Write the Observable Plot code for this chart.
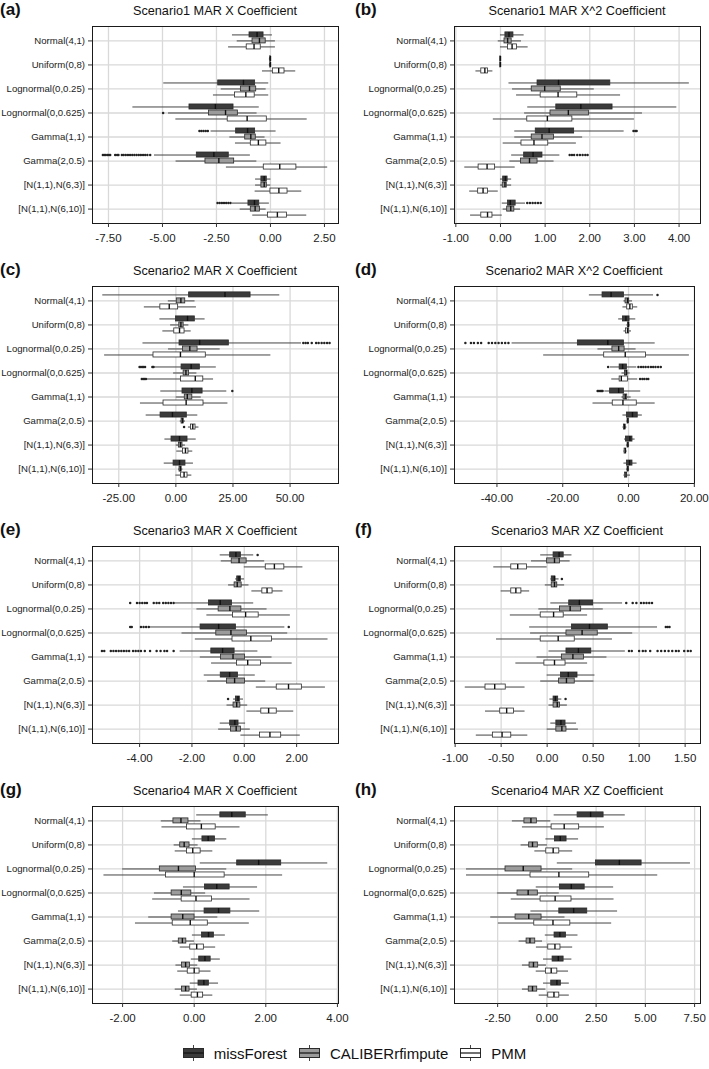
<!DOCTYPE html>
<html><head><meta charset="utf-8">
<script src="https://cdn.jsdelivr.net/npm/d3@7"></script>
<script src="https://cdn.jsdelivr.net/npm/@observablehq/plot@0.6"></script>
<style>
body{margin:0;background:#fff;font-family:"Liberation Sans",Arial,sans-serif;}
#wrap{position:relative;width:709px;height:1069px;overflow:hidden;}
.cell{position:absolute;height:260px;}
.tag{position:absolute;left:0;top:1px;font-weight:bold;font-size:17px;line-height:17px;color:#111;}
.title{position:absolute;top:3.6px;font-size:12.7px;line-height:14px;text-align:center;color:#111;white-space:nowrap;}
.cell svg{position:absolute;top:20px;left:0;}
#legend{position:absolute;top:1044px;left:0;width:709px;height:18px;display:flex;justify-content:center;align-items:center;font-size:15px;color:#111;}
#legend .item{display:flex;align-items:center;margin:0 6px;}
#legend svg{margin-right:10px;}
</style></head>
<body><div id="wrap"></div>
<script>
const categories = ["Normal(4,1)","Uniform(0,8)","Lognormal(0,0.25)","Lognormal(0,0.625)","Gamma(1,1)","Gamma(2,0.5)","[N(1,1),N(6,3)]","[N(1,1),N(6,10)]"];
const methods = ["missForest","CALIBERrfimpute","PMM"];
const fills = ["#3b3b3b","#9b9b9b","#ffffff"];
const tags = ["(a)","(b)","(c)","(d)","(e)","(f)","(g)","(h)"];
const titles = ["Scenario1 MAR X Coefficient","Scenario1 MAR X^2 Coefficient","Scenario2 MAR X Coefficient","Scenario2 MAR X^2 Coefficient","Scenario3 MAR X Coefficient","Scenario3 MAR XZ Coefficient","Scenario4 MAR X Coefficient","Scenario4 MAR XZ Coefficient"];
const ticksA = [-7.5,-5,-2.5,0,2.5], ticksB = [-1,0,1,2,3,4], ticksC = [-25,0,25,50], ticksD = [-40,-20,0,20];
const ticksE = [-4,-2,0,2], ticksF = [-1,-0.5,0,0.5,1,1.5], ticksG = [-2,0,2,4], ticksH = [-2.5,0,2.5,5,7.5];
const domA = [-8.24,3.15], domB = [-1.03,4.48], domC = [-36.5,71.2], domD = [-52.9,20.05];
const domE = [-5.8,3.6], domF = [-1.007,1.667], domG = [-2.84,4.03], domH = [-4.69,7.8];

// [low whisker, q1, median, q3, high whisker]; per category: missForest, CALIBERrfimpute, PMM
const statsA = [
 [-1.76,-0.97,-0.62,-0.32,0.09],[-1.54,-0.83,-0.51,-0.22,0.23],[-1.94,-1.10,-0.76,-0.45,0.23],
 [-0.05,-0.02,0,0.02,0.05],[-0.05,-0.02,0,0.02,0.05],[-0.37,0.11,0.38,0.65,1.17],
 [-4.94,-2.42,-1.25,-0.71,-0.08],[-2.28,-1.37,-0.97,-0.66,-0.20],[-2.64,-1.64,-1.14,-0.73,-0.08],
 [-6.37,-3.75,-2.55,-1.71,-0.52],[-4.72,-2.85,-2.08,-1.51,-0.62],[-4.38,-1.98,-1.08,-0.17,1.70],
 [-2.75,-1.59,-1.06,-0.71,0.26],[-1.88,-1.17,-0.91,-0.68,-0.25],[-1.62,-0.91,-0.56,-0.19,0.49],
 [-5.37,-3.41,-2.62,-1.93,-0.93],[-4.37,-3.01,-2.39,-1.68,-0.63],[-2.04,-0.31,0.43,1.20,2.65],
 [-0.69,-0.42,-0.29,-0.17,0.02],[-0.69,-0.42,-0.29,-0.17,0.02],[-0.71,0.0,0.39,0.79,1.45],
 [-1.76,-1.02,-0.74,-0.52,-0.05],[-1.40,-0.91,-0.71,-0.49,-0.20],[-0.82,-0.12,0.32,0.76,1.68]];
const statsB = [
 [0.0,0.11,0.19,0.29,0.53],[-0.05,0.09,0.16,0.25,0.47],[0.0,0.17,0.26,0.37,0.62],
 [-0.01,-0.005,0,0.005,0.01],[-0.01,-0.005,0,0.005,0.01],[-0.55,-0.43,-0.35,-0.28,-0.17],
 [0.19,0.83,1.30,2.46,4.23],[0.27,0.70,0.99,1.35,2.10],[0.36,0.90,1.29,1.72,2.69],
 [0.61,1.25,1.80,2.51,3.95],[0.54,1.12,1.52,1.98,3.18],[-0.16,0.60,1.05,1.61,3.00],
 [0.32,0.79,1.09,1.65,2.77],[0.32,0.70,0.93,1.20,1.84],[0.06,0.47,0.75,1.07,1.70],
 [0.25,0.53,0.73,0.94,1.33],[0.21,0.46,0.65,0.83,1.20],[-0.80,-0.49,-0.30,-0.12,0.33],
 [0.0,0.06,0.11,0.16,0.25],[0.0,0.05,0.10,0.14,0.25],[-0.69,-0.50,-0.39,-0.28,-0.05],
 [0.04,0.17,0.22,0.34,0.56],[0.06,0.15,0.23,0.31,0.45],[-0.67,-0.43,-0.29,-0.18,0.04]];
const statsC = [
 [-32,5.8,21.5,32.7,45.5],[-3.3,0.4,2.2,4.1,8.4],[-13.8,-6.8,-2.9,1.0,9.0],
 [-7.0,0.1,5.1,8.3,12.8],[-2.3,1.5,2.2,3.4,5.7],[-5.7,-0.7,1.6,3.8,6.7],
 [-14.4,1.6,10.4,23.2,55.0],[-3.2,3.1,6.1,9.5,19.4],[-31.2,-9.8,2.0,13.1,41.6],
 [-9.3,2.5,6.7,10.5,17.7],[-1.0,3.4,4.4,5.8,9.2],[-12.5,2.2,8.5,12.0,16.5],
 [-6.6,2.9,7.0,11.7,22.3],[0.1,3.9,5.0,7.2,11.1],[-15.5,-5.4,4.5,12.1,22.8],
 [-13.0,-6.7,-1.5,4.8,9.6],[1.9,2.5,2.9,3.4,4.2],[5.5,6.6,7.4,8.6,10.1],
 [-4.8,-1.9,1.6,5.1,8.9],[0.1,1.3,2.0,2.9,4.2],[0.4,3.1,4.2,5.5,7.4],
 [-5.1,-1.0,1.6,4.2,7.7],[1.2,1.6,2.0,2.5,3.1],[0.0,2.3,3.6,5.1,7.0]];
const statsD = [
 [-11.9,-7.9,-5.3,-1.4,7.6],[-1.4,-0.9,-0.3,0.2,1.2],[-1.7,-0.4,0.4,1.3,2.8],
 [-3.0,-1.7,-0.8,0.3,2.2],[-0.5,-0.2,0,0.2,0.5],[-1.4,-0.8,-0.3,0.2,0.9],
 [-35.4,-15.4,-6.3,-1.4,8.1],[-9.3,-4.9,-3.0,-1.2,2.3],[-25.8,-7.4,-1.0,5.3,18.5],
 [-5.5,-2.7,-1.8,-0.5,2.5],[-2.0,-1.1,-0.7,-0.3,0.5],[-5.1,-2.7,-2.2,-0.2,2.8],
 [-7.2,-5.6,-3.0,-1.4,3.7],[-2.0,-1.5,-1.0,-0.4,0.8],[-10.8,-4.8,-1.7,2.5,8.1],
 [-1.7,-0.5,1.2,2.8,4.2],[-0.5,-0.3,-0.2,0.0,0.2],[-1.7,-1.4,-1.2,-0.9,-0.5],
 [-1.2,-0.8,0.4,1.2,2.0],[-0.6,-0.3,-0.2,0.0,0.3],[-1.4,-1.2,-1.0,-0.7,-0.4],
 [-1.4,-0.5,0.3,1.2,2.6],[-0.6,-0.3,-0.2,0.0,0.3],[-1.4,-1.1,-0.8,-0.4,0.6]];
const statsE = [
 [-0.92,-0.54,-0.32,-0.13,0.36],[-0.88,-0.48,-0.20,0.09,0.78],[0.0,0.82,1.15,1.53,2.24],
 [-0.33,-0.27,-0.20,-0.13,0.01],[-0.60,-0.37,-0.27,-0.10,0.18],[0.29,0.69,0.87,1.08,1.48],
 [-2.64,-1.35,-0.92,-0.47,0.36],[-1.81,-0.98,-0.55,-0.11,0.87],[-1.43,-0.43,0.05,0.55,1.76],
 [-3.63,-1.67,-0.98,-0.32,1.55],[-2.38,-1.07,-0.51,0.10,1.66],[-1.87,-0.45,0.25,1.06,3.20],
 [-2.45,-1.26,-0.83,-0.37,0.52],[-1.68,-0.89,-0.43,0.03,1.06],[-1.25,-0.28,0.13,0.64,1.83],
 [-1.53,-0.90,-0.56,-0.24,0.42],[-1.40,-0.66,-0.37,0.03,0.82],[0.46,1.24,1.69,2.20,3.10],
 [-0.41,-0.32,-0.24,-0.17,-0.03],[-0.66,-0.41,-0.29,-0.15,0.13],[0.10,0.65,0.93,1.24,1.89],
 [-0.92,-0.54,-0.36,-0.22,0.05],[-0.98,-0.51,-0.31,-0.13,0.23],[-0.13,0.60,0.98,1.41,2.14]];
const statsF = [
 [-0.07,0.07,0.13,0.18,0.27],[-0.17,0.0,0.08,0.14,0.25],[-0.58,-0.39,-0.32,-0.22,0.0],
 [0.04,0.05,0.08,0.09,0.13],[-0.02,0.05,0.08,0.11,0.19],[-0.50,-0.39,-0.34,-0.28,-0.19],
 [0.04,0.24,0.35,0.50,0.82],[-0.09,0.14,0.25,0.37,0.61],[-0.40,-0.07,0.07,0.18,0.44],
 [-0.19,0.27,0.46,0.66,1.20],[-0.18,0.21,0.38,0.55,0.93],[-0.55,-0.07,0.12,0.30,0.71],
 [0.02,0.21,0.34,0.48,0.85],[-0.11,0.16,0.28,0.40,0.65],[-0.34,-0.03,0.08,0.20,0.44],
 [0.0,0.15,0.23,0.33,0.52],[-0.07,0.13,0.21,0.30,0.51],[-0.89,-0.67,-0.57,-0.45,-0.24],
 [0.03,0.07,0.09,0.12,0.16],[0.02,0.07,0.11,0.14,0.22],[-0.67,-0.51,-0.44,-0.36,-0.24],
 [0.04,0.10,0.15,0.20,0.32],[0.0,0.10,0.16,0.21,0.34],[-0.77,-0.59,-0.49,-0.39,-0.21]];
const statsG = [
 [0.07,0.73,1.05,1.44,2.07],[-0.92,-0.58,-0.37,-0.16,0.19],[-0.90,-0.20,0.20,0.60,1.28],
 [-0.05,0.23,0.39,0.58,0.91],[-0.56,-0.39,-0.28,-0.13,0.11],[-0.53,-0.20,-0.04,0.18,0.52],
 [0.17,1.20,1.80,2.43,3.73],[-2.0,-0.96,-0.44,0.05,0.91],[-2.52,-0.79,0.0,0.85,2.47],
 [-0.30,0.30,0.63,0.99,1.77],[-1.11,-0.63,-0.36,-0.08,0.32],[-1.16,-0.35,0.05,0.50,1.56],
 [-0.44,0.29,0.68,1.01,1.83],[-1.27,-0.63,-0.32,0.01,0.66],[-1.64,-0.60,-0.11,0.38,1.54],
 [-0.05,0.22,0.40,0.55,0.87],[-0.60,-0.43,-0.33,-0.22,0.01],[-0.39,-0.11,0.07,0.27,0.60],
 [-0.08,0.14,0.30,0.46,0.73],[-0.51,-0.34,-0.24,-0.12,0.10],[-0.46,-0.18,0.0,0.15,0.47],
 [-0.11,0.12,0.27,0.41,0.68],[-0.53,-0.34,-0.24,-0.13,0.09],[-0.39,-0.07,0.09,0.25,0.52]];
const statsH = [
 [0.37,1.56,2.22,2.88,3.98],[-1.75,-1.14,-0.81,-0.51,0.20],[-1.24,0.24,0.88,1.64,2.92],
 [-0.05,0.41,0.68,1.00,1.61],[-1.31,-0.90,-0.73,-0.46,0.03],[-0.61,-0.03,0.32,0.63,1.31],
 [0.53,2.49,3.68,4.81,7.29],[-4.08,-2.10,-1.20,-0.27,1.31],[-4.08,-0.83,0.61,2.15,5.63],
 [-0.54,0.66,1.24,1.92,3.39],[-2.51,-1.49,-0.95,-0.46,0.63],[-1.81,-0.32,0.42,1.25,3.41],
 [-0.81,0.63,1.36,2.05,3.59],[-2.85,-1.59,-0.92,-0.27,0.92],[-2.46,-0.64,0.31,1.19,3.29],
 [-0.08,0.39,0.66,0.97,1.58],[-1.41,-1.03,-0.86,-0.59,-0.22],[-0.53,0.07,0.41,0.69,1.31],
 [-0.17,0.29,0.58,0.85,1.27],[-1.24,-0.88,-0.68,-0.44,-0.02],[-0.54,-0.05,0.22,0.53,1.10],
 [-0.17,0.22,0.51,0.71,1.14],[-1.24,-0.92,-0.73,-0.49,-0.05],[-0.39,0.07,0.36,0.63,1.14]];

// outliers: [category index, method index, values]
const outA = [[3,1,[-4.97]],[4,0,[-3.29,-3.2,-3.1,-3.0,-2.9]],
 [5,0,[-7.76,-7.7,-7.63,-7.55,-7.48,-7.42,-7.19,-7.1,-7.04,-6.88,-6.8,-6.7,-6.6,-6.5,-6.4,-6.3,-6.2,-6.1,-6.0,-5.9,-5.8,-5.7,-5.57]],
 [7,0,[-2.45,-2.35,-2.25,-2.15,-2.05,-1.95,-1.85]]];
const outB = [[4,0,[2.98,3.02,3.05]],[5,0,[1.55,1.6,1.65,1.72,1.78,1.84,1.9,1.95]],[7,0,[0.6,0.66,0.72,0.78,0.84,0.9]]];
const outC = [[2,0,[55.8,56.8,57.8,59.5,61.4,62.5,63.8,65.0,66.2,67.3]],[3,0,[-15.9,-15.3,-14.7,-14.1,-13.5,-10.3,-9.8]],
 [3,2,[-14.9,-14.3,-13.7,-13.1]],[4,0,[24.7]],[5,2,[3.6]]];
const outD = [[0,0,[8.8]],[2,0,[-49.6,-47.9,-47.0,-45.8,-44.8,-42.5,-41.5,-40.5,-39.5,-38.5,-37.5,-36.5]],
 [3,0,[-6.2,3.0,3.8,4.5,5.2,6.0,6.8,7.5,8.2,9.0,9.8]],[3,2,[3.5,4.2,4.8,5.5,6.0]],[4,0,[-9.4,-9.0,-8.6,-8.2,-7.9]]];
const outE = [[0,0,[0.51]],[2,0,[-4.36,-4.1,-4.0,-3.9,-3.8,-3.72,-3.46,-3.35,-3.25,-3.1,-3.0,-2.9,-2.8,-2.7]],
 [3,0,[-4.36,-4.3,-3.95,-3.85,-3.75,-3.65,1.70]],
 [4,0,[-5.44,-5.35,-5.1,-5.0,-4.9,-4.8,-4.7,-4.6,-4.5,-4.4,-4.25,-4.15,-4.05,-3.95,-3.8,-3.6,-3.35,-3.2,-3.05,-2.95,-2.7]],
 [6,0,[-0.62]]];
const outF = [[1,0,[0.16]],[2,0,[0.86,0.93,0.97,1.02,1.05,1.08,1.11,1.14]],[3,0,[1.29,1.31,1.33]],
 [4,0,[0.89,0.92,1.0,1.04,1.07,1.12,1.2,1.24,1.28,1.32,1.36,1.4,1.43,1.49,1.53,1.56]],[6,0,[0.2]]];
const outG = [], outH = [];

const panels = [
 {stats: statsA, outs: outA, ticks: ticksA, domain: domA},
 {stats: statsB, outs: outB, ticks: ticksB, domain: domB},
 {stats: statsC, outs: outC, ticks: ticksC, domain: domC},
 {stats: statsD, outs: outD, ticks: ticksD, domain: domD},
 {stats: statsE, outs: outE, ticks: ticksE, domain: domE},
 {stats: statsF, outs: outF, ticks: ticksF, domain: domF},
 {stats: statsG, outs: outG, ticks: ticksG, domain: domG},
 {stats: statsH, outs: outH, ticks: ticksH, domain: domH}];

const offsets = [-0.25, 0, 0.25];
const half = 0.105;
const wrap = document.getElementById("wrap");

panels.forEach((p, k) => {
  const right = k % 2 === 1;
  const w = right ? 354 : 355;
  const ml = right ? 99 : 92;
  const mr = right ? (k === 3 ? 15 : 9) : 17;
  const rows = p.stats.map((s, j) => {
    const c = Math.floor(j / 3), m = j % 3;
    return {method: methods[m], y: c + offsets[m], low: s[0], q1: s[1], med: s[2], q3: s[3], high: s[4]};
  });
  const outs = [];
  p.outs.forEach(([c, m, vals]) => vals.forEach(v => outs.push({v, y: c + offsets[m]})));
  const chart = Plot.plot({
    width: w, height: 240, marginTop: 6, marginBottom: 37, marginLeft: ml, marginRight: mr,
    style: {fontFamily: "'Liberation Sans', Arial, sans-serif", background: "white", color: "#222", overflow: "visible"},
    x: {domain: p.domain},
    y: {domain: [7.6, -0.6]},
    color: {domain: methods, range: fills},
    marks: [
      Plot.ruleX(p.ticks, {stroke: "#d9d9d9", strokeWidth: 1.3}),
      Plot.ruleY(d3.range(8), {stroke: "#d9d9d9", strokeWidth: 1.3}),
      Plot.ruleY(rows, {y: "y", x1: "low", x2: "q1", stroke: "#444", strokeWidth: 1}),
      Plot.ruleY(rows, {y: "y", x1: "q3", x2: "high", stroke: "#444", strokeWidth: 1}),
      Plot.dot(outs, {x: "v", y: "y", r: 1.25, fill: "#222", stroke: "none"}),
      Plot.rect(rows, {x1: "q1", x2: "q3", y1: d => d.y - half, y2: d => d.y + half, fill: "method", stroke: "#2a2a2a", strokeWidth: 0.8}),
      Plot.ruleX(rows, {x: "med", y1: d => d.y - half, y2: d => d.y + half, stroke: "#111", strokeWidth: 1.4}),
      Plot.frame({stroke: "#1a1a1a", strokeWidth: 1}),
      Plot.axisX({ticks: p.ticks, tickFormat: d => d.toFixed(2), tickSize: 4, tickPadding: 6, fontSize: 11.5, label: null, stroke: "#333", fill: "#222"}),
      Plot.axisY({ticks: d3.range(8), tickFormat: i => categories[i], tickSize: 4, tickPadding: 3.5, fontSize: 9.6, label: null, stroke: "#333", fill: "#222"})
    ]
  });
  const cell = document.createElement("div");
  cell.className = "cell";
  cell.style.left = (right ? 355 : 0) + "px";
  cell.style.top = (Math.floor(k / 2) * 260) + "px";
  cell.style.width = w + "px";
  const tag = document.createElement("div");
  tag.className = "tag"; tag.textContent = tags[k];
  const title = document.createElement("div");
  title.className = "title"; title.textContent = titles[k];
  title.style.left = ml + "px"; title.style.width = (w - ml - mr) + "px";
  cell.appendChild(tag); cell.appendChild(title); cell.appendChild(chart);
  wrap.appendChild(cell);
});

// legend
const legend = document.createElement("div");
legend.id = "legend";
methods.forEach((m, i) => {
  const item = document.createElement("div");
  item.className = "item";
  const ns = "http://www.w3.org/2000/svg";
  const svg = document.createElementNS(ns, "svg");
  svg.setAttribute("width", 21); svg.setAttribute("height", 18);
  svg.innerHTML = `<line x1="10.5" x2="10.5" y1="1" y2="17" stroke="#444"/>` +
    `<rect x="0.5" y="4.5" width="20" height="9" fill="${fills[i]}" stroke="#2a2a2a"/>` +
    `<line x1="0.5" x2="20.5" y1="9" y2="9" stroke="#111" stroke-width="1.2"/>`;
  const t = document.createElement("span");
  t.textContent = m;
  item.appendChild(svg); item.appendChild(t);
  legend.appendChild(item);
});
wrap.appendChild(legend);
</script>
</body></html>
